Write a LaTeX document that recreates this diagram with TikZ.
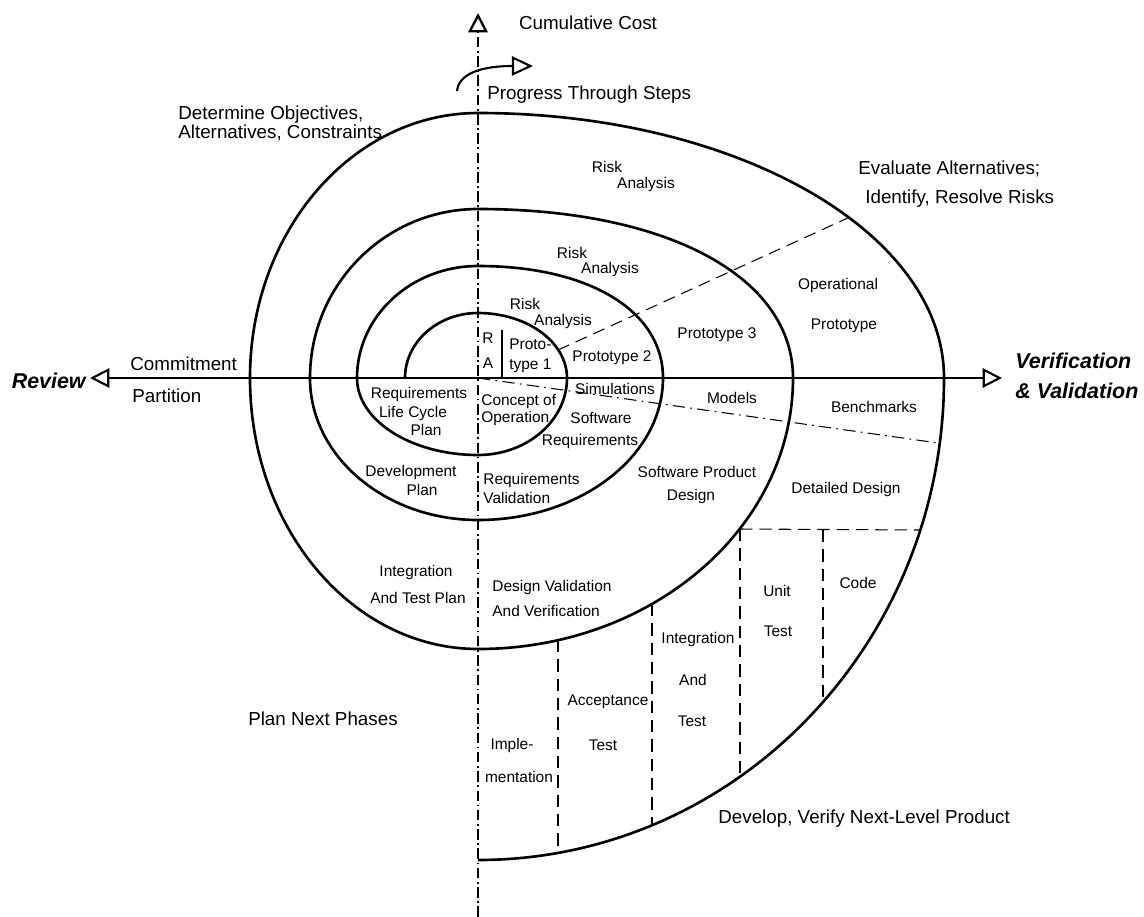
\documentclass[tikz,border=0pt]{standalone}
\usepackage{fontspec}
\setmainfont{Liberation Sans}
\usetikzlibrary{arrows.meta}

\begin{document}
\begin{tikzpicture}[
    x=0.02cm, y=-0.02cm,
    spiral/.style={line width=1.5pt, line join=round},
    axis/.style={line width=1.5pt, {Triangle[open, length=11pt, width=11pt, line width=1.2pt]}-{Triangle[open, length=11pt, width=11pt, line width=1.2pt]}},
    costaxis/.style={line width=0.6pt, dash pattern=on 6pt off 2pt on 1pt off 2pt, -{Triangle[open, length=11pt, width=11pt, line width=1.3pt]}},
    split/.style={line width=0.6pt, dash pattern=on 7pt off 4pt},
    splitdot/.style={line width=0.6pt, dash pattern=on 7pt off 3pt on 1pt off 3pt},
    lbl/.style={inner sep=0pt, text height=1.4ex, text depth=0pt, font=\fontsize{8.8}{10.8}\selectfont},
    phase/.style={inner sep=0pt, text height=1.4ex, text depth=0pt, font=\fontsize{10.7}{12}\selectfont},
    vv/.style={inner sep=0pt, text height=1.4ex, text depth=0pt, font=\fontsize{12.2}{14}\selectfont\bfseries\itshape}
]
    \useasboundingbox (0,0) rectangle (1144,917);

    % axes
    \coordinate (o) at (478,378);
    \coordinate (costbase) at (478,917);
    \coordinate (costtip) at (478,13);
    \coordinate (revtip) at (90,378);
    \coordinate (vvtip) at (1002,378);
    \draw[costaxis] (costbase) -- (costtip);
    \draw[axis] (revtip) -- (vvtip);

    % the spiral
    \draw[spiral] (405,378)
        .. controls +(0,-35.9) and +(-40.3,0) .. (478,313)
        .. controls +(49.2,0) and +(0,-35.9) .. (567,378)
        .. controls +(0,42.5) and +(49.2,0) .. (478,455)
        .. controls +(-66.8,0) and +(0,42.5) .. (357,378)
        .. controls +(0,-61.9) and +(-66.8,0) .. (478,266)
        .. controls +(111,0) and +(0,-67.2) .. (663,378)
        .. controls +(0,78.4) and +(102.2,0) .. (478,520)
        .. controls +(-92.8,0) and +(0,78.4) .. (310,378)
        .. controls +(0,-93.3) and +(-92.8,0) .. (478,209)
        .. controls +(189,0) and +(0,-101.4) .. (793,378)
        .. controls +(0,149.7) and +(174,0) .. (478,649)
        .. controls +(-125.9,0) and +(0,149.7) .. (250,378)
        .. controls +(0,-146.4) and +(-125.9,0) .. (478,113)
        .. controls +(257.4,0) and +(0,-146.4) .. (944,378)
        .. controls +(0,266.2) and +(257.4,0) .. (478,860);

    % progress arrow
    \coordinate (progstart) at (457,91);
    \coordinate (progend) at (533,66);
    \draw[line width=1.2pt, -{Triangle[open, length=12pt, width=11pt]}] (progstart) .. controls (459,72) and (485,66) .. (progend);

    % sector borders
    \coordinate (ra1) at (558,350);
    \coordinate (ra4) at (850,217);
    \coordinate (bench) at (938,443);
    \draw[split] (ra1) -- (ra4);
    \draw[splitdot] (o) -- (bench);
    \draw[line width=0.6pt] (502,330) -- (502,377);

    % waterfall steps
    \coordinate (impltop) at (558,640);
    \coordinate (implbot) at (558,853);
    \coordinate (acctop) at (652,604);
    \coordinate (accbot) at (652,825);
    \coordinate (inttop) at (740,529);
    \coordinate (intbot) at (740,777);
    \coordinate (unittop) at (823,530);
    \coordinate (unitbot) at (823,702);
    \coordinate (codeend) at (920,530);
    \draw[split] (impltop) -- (implbot);
    \draw[split] (acctop) -- (accbot);
    \draw[split] (inttop) -- (intbot);
    \draw[split] (unittop) -- (unitbot);
    \draw[split] (inttop) -- (codeend);

    % quadrant and axis texts
    \node[phase] (cost) at (588,23) {Cumulative Cost};
    \node[phase, anchor=west] (steps) at (487,93) {Progress Through Steps};
    \node[phase, anchor=west] (obj1) at (178,113) {Determine Objectives,};
    \node[phase, anchor=west] (obj2) at (178,132) {Alternatives, Constraints};
    \node[phase, anchor=west] (eval1) at (858,168) {Evaluate Alternatives;};
    \node[phase, anchor=west] (eval2) at (865,197) {Identify, Resolve Risks};
    \node[phase, anchor=west] (commit) at (130,364) {Commitment};
    \node[phase, anchor=west] (partition) at (132,396) {Partition};
    \node[phase] (plannext) at (323,719) {Plan Next Phases};
    \node[phase, anchor=west] (develop) at (718,817) {Develop, Verify Next-Level Product};
    \node[vv, anchor=east] (review) at (86,382) {Review};
    \node[vv, anchor=west] (verif) at (1015,362) {Verification};
    \node[vv, anchor=west] (valid) at (1015,392) {\& Validation};

    % upper right: risk analysis and prototypes
    \node[lbl] (risk1) at (525,303) {Risk};
    \node[lbl] (anal1) at (563,319) {Analysis};
    \node[lbl] (risk2) at (572,252) {Risk};
    \node[lbl] (anal2) at (610,267) {Analysis};
    \node[lbl] (risk3) at (607,166) {Risk};
    \node[lbl] (anal3) at (646,182) {Analysis};
    \node[lbl] (r) at (488,337) {R};
    \node[lbl] (a) at (488,362) {A};
    \node[lbl, anchor=west] (proto1a) at (509,343) {Proto-};
    \node[lbl, anchor=west] (proto1b) at (509,363) {type 1};
    \node[lbl] (proto2) at (612,355) {Prototype 2};
    \node[lbl] (proto3) at (717,332) {Prototype 3};
    \node[lbl] (opera) at (838,283) {Operational};
    \node[lbl] (operb) at (844,323) {Prototype};

    % lower right: products
    \node[lbl] (sim) at (615,388) {Simulations};
    \node[lbl] (models) at (732,397) {Models};
    \node[lbl] (bench) at (874,406) {Benchmarks};
    \node[lbl, anchor=west] (conc1) at (481,399) {Concept of};
    \node[lbl, anchor=west] (conc2) at (481,416) {Operation};
    \node[lbl] (swreq1) at (601,417) {Software};
    \node[lbl] (swreq2) at (590,439) {Requirements};
    \node[lbl, anchor=west] (reqval1) at (483,478) {Requirements};
    \node[lbl, anchor=west] (reqval2) at (483,497) {Validation};
    \node[lbl] (swpd1) at (697,471) {Software Product};
    \node[lbl] (swpd2) at (691,494) {Design};
    \node[lbl] (detail) at (846,487) {Detailed Design};
    \node[lbl, anchor=west] (dvv1) at (492,585) {Design Validation};
    \node[lbl, anchor=west] (dvv2) at (492,610) {And Verification};
    \node[lbl] (code) at (858,582) {Code};
    \node[lbl] (unit1) at (777,590) {Unit};
    \node[lbl] (unit2) at (778,630) {Test};
    \node[lbl] (integ1) at (698,637) {Integration};
    \node[lbl] (integ2) at (693,679) {And};
    \node[lbl] (integ3) at (692,720) {Test};
    \node[lbl] (accept1) at (608,699) {Acceptance};
    \node[lbl] (accept2) at (603,744) {Test};
    \node[lbl] (impl1) at (512,743) {Imple-};
    \node[lbl] (impl2) at (519,776) {mentation};

    % lower left: plans
    \node[lbl] (lcp1) at (419,392) {Requirements};
    \node[lbl] (lcp2) at (413,411) {Life Cycle};
    \node[lbl] (lcp3) at (426,429) {Plan};
    \node[lbl] (dev1) at (411,470) {Development};
    \node[lbl] (dev2) at (422,489) {Plan};
    \node[lbl] (itp1) at (416,570) {Integration};
    \node[lbl] (itp2) at (418,597) {And Test Plan};
\end{tikzpicture}
\end{document}
